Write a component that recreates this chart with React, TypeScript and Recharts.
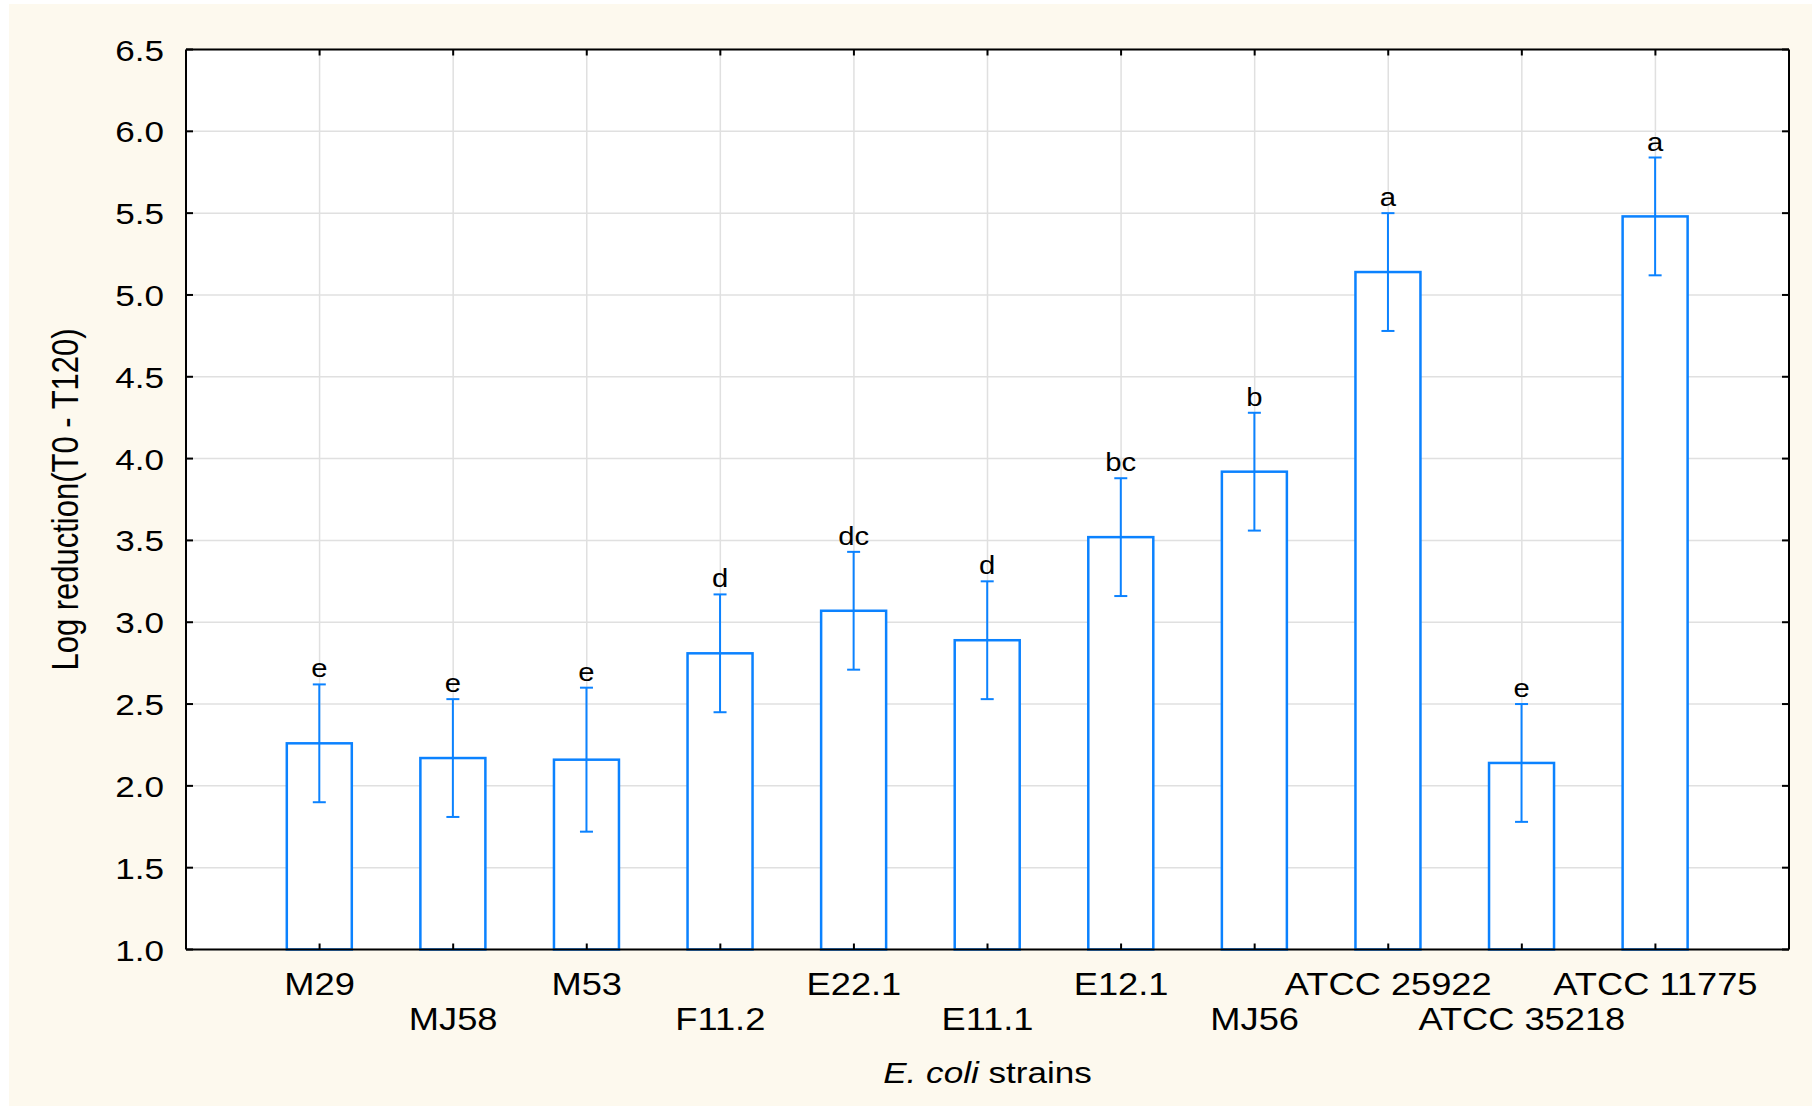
import {
  ComposedChart,
  Bar,
  ErrorBar,
  Line,
  XAxis,
  YAxis,
  CartesianGrid,
} from 'recharts';

const strains = [
  'M29',
  'MJ58',
  'M53',
  'F11.2',
  'E22.1',
  'E11.1',
  'E12.1',
  'MJ56',
  'ATCC 25922',
  'ATCC 35218',
  'ATCC 11775',
];
const logReduction = [2.26, 2.17, 2.16, 2.81, 3.07, 2.89, 3.52, 3.92, 5.14, 2.14, 5.48];
const stdError = [0.36, 0.36, 0.44, 0.36, 0.36, 0.36, 0.36, 0.36, 0.36, 0.36, 0.36];
const groups = ['e', 'e', 'e', 'd', 'dc', 'd', 'bc', 'b', 'a', 'e', 'a'];
const yTicks = [1.0, 1.5, 2.0, 2.5, 3.0, 3.5, 4.0, 4.5, 5.0, 5.5, 6.0, 6.5];

const Y_MIN = 1;
const Y_MAX = 6.5;
const BLUE = '#0b82ff';
const FONT = '"Liberation Sans", Arial, sans-serif';
// the source figure is stretched sideways, text included
const SX = 1.17;

const data = strains.map((name, i) => ({
  name,
  mean: logReduction[i],
  err: stdError[i],
  group: groups[i],
}));

const OutlineBar = (props: any) => {
  const { x, y, width, height, payload } = props;
  if (!payload) return null;
  const perUnit = height / (payload.mean - Y_MIN);
  const capY = y - payload.err * perUnit;
  return (
    <g>
      <rect x={x} y={y} width={width} height={height} fill="#fff" stroke={BLUE} strokeWidth={2.5} />
      <g transform={`translate(${x + width / 2},${capY - 7}) scale(${SX},1)`}>
        <text textAnchor="middle" fontFamily={FONT} fontSize={25} fill="#000">
          {payload.group}
        </text>
      </g>
    </g>
  );
};

const StrainTick = (props: any) => {
  const { x, y, payload, index } = props;
  const drop = index % 2 === 0 ? 51 : 86;
  return (
    <g transform={`translate(${x},${y + drop}) scale(${SX},1)`}>
      <text textAnchor="middle" fontFamily={FONT} fontSize={31} fill="#000">
        {payload.value}
      </text>
    </g>
  );
};

const ValueTick = (props: any) => {
  const { x, y, payload } = props;
  return (
    <g transform={`translate(${x},${y + 11}) scale(${SX},1)`}>
      <text textAnchor="end" fontFamily={FONT} fontSize={30} fill="#000">
        {Number(payload.value).toFixed(1)}
      </text>
    </g>
  );
};

const NoTick = () => <g />;

const YTitle = (props: any) => {
  const vb = props.viewBox ?? props;
  return (
    <g transform={`translate(${vb.x - 22},${vb.y + vb.height / 2}) scale(${SX},1) rotate(-90)`}>
      <text textAnchor="middle" fontFamily={FONT} fontSize={31} fill="#000">
        Log reduction(T0 - T120)
      </text>
    </g>
  );
};

const XTitle = (props: any) => {
  const vb = props.viewBox ?? props;
  return (
    <g transform={`translate(${vb.x + vb.width / 2},${vb.y + 133}) scale(${SX},1)`}>
      <text textAnchor="middle" fontFamily={FONT} fontSize={30} fill="#000">
        <tspan fontStyle="italic">E. coli</tspan>
        <tspan> strains</tspan>
      </text>
    </g>
  );
};

const axisStroke = { stroke: '#000', strokeWidth: 2 };
const pad = { left: 66.8, right: 66.8 };

export default function App() {
  return (
    <div style={{ position: 'absolute', left: 0, top: 0, width: 1818, height: 1110, background: '#fff' }}>
      <div
        style={{ position: 'absolute', left: 9, top: 4, right: 6, bottom: 4, background: '#fdf9ee' }}
      />
      <div style={{ position: 'absolute', left: 0, top: 0 }}>
        <ComposedChart
          width={1818}
          height={1110}
          data={data}
          margin={{ top: 48.5, right: 28, bottom: 60.5, left: 100 }}
        >
          <CartesianGrid stroke="#e0e0e0" strokeWidth={1.5} fill="#fff" />
          <XAxis
            dataKey="name"
            padding={pad}
            interval={0}
            height={100}
            tickSize={-6}
            tickMargin={0}
            axisLine={axisStroke}
            tickLine={axisStroke}
            tick={StrainTick}
            label={XTitle}
          />
          <XAxis
            xAxisId="top"
            orientation="top"
            dataKey="name"
            padding={pad}
            interval={0}
            height={1}
            tickSize={-6}
            axisLine={axisStroke}
            tickLine={axisStroke}
            tick={NoTick}
          />
          <YAxis
            type="number"
            domain={[Y_MIN, Y_MAX]}
            ticks={yTicks}
            interval={0}
            width={86}
            tickSize={-7}
            tickMargin={29}
            axisLine={axisStroke}
            tickLine={axisStroke}
            tick={ValueTick}
            label={YTitle}
          />
          <YAxis
            yAxisId="right"
            orientation="right"
            type="number"
            domain={[Y_MIN, Y_MAX]}
            ticks={yTicks}
            interval={0}
            width={1}
            tickSize={-7}
            axisLine={axisStroke}
            tickLine={axisStroke}
            tick={NoTick}
          />
          <Bar dataKey="mean" barSize={65} shape={OutlineBar} isAnimationActive={false}>
            <ErrorBar dataKey="err" width={6.5} strokeWidth={2} stroke={BLUE} direction="y" />
          </Bar>
          <Line
            xAxisId="top"
            yAxisId="right"
            dataKey="mean"
            stroke="none"
            dot={false}
            activeDot={false}
            legendType="none"
            isAnimationActive={false}
          />
        </ComposedChart>
      </div>
    </div>
  );
}
